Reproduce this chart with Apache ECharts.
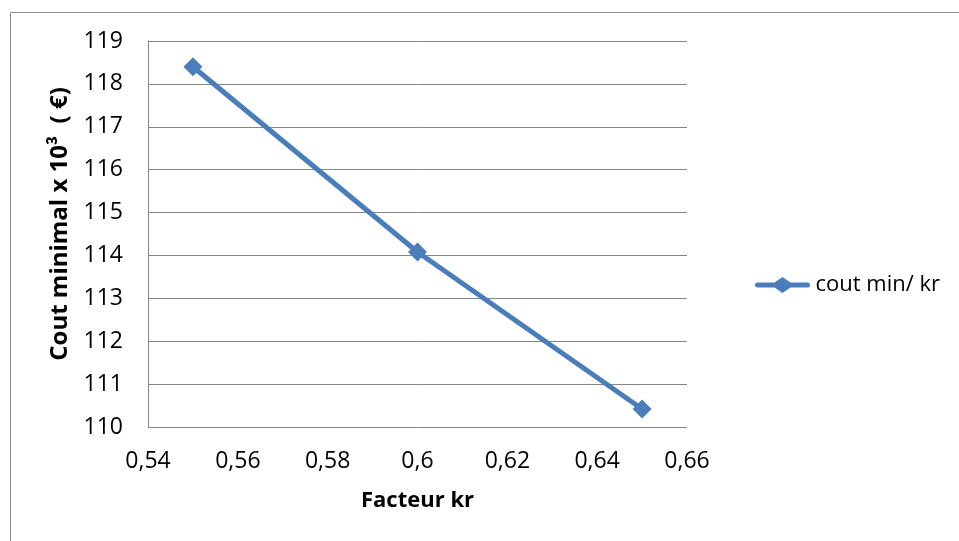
<!DOCTYPE html>
<html>
<head>
<meta charset="utf-8">
<script src="https://cdn.jsdelivr.net/npm/echarts@6/dist/echarts.min.js"></script>
<style>
  html, body { margin: 0; padding: 0; background: #fff; }
  #chart { width: 959px; height: 541px; }
</style>
</head>
<body>
<div id="chart"></div>
<script>
// Facteur kr vs minimal cost (thousands of euros)
const kr = [0.55, 0.60, 0.65];
const coutMin = [118.4, 114.08, 110.42];
const seriesName = 'cout min/ kr';

const xMin = 0.54, xMax = 0.66, xStep = 0.02;
const yMin = 110, yMax = 119, yStep = 1;

const FONT = '"Open Sans", "Liberation Sans", sans-serif';
const BLUE = '#4a7ebb';
const GRID = '#868686';

// legend key: thick line with a diamond in the middle (56 x 16 box)
const LEGEND_ICON = 'path://M3,5.5 L20,5.5 L28,0 L36,5.5 L53,5.5 A2.5,2.5 0 0 1 53,10.5 L36,10.5 L28,16 L20,10.5 L3,10.5 A2.5,2.5 0 0 1 3,5.5 Z';

const chart = echarts.init(document.getElementById('chart'), null, { renderer: 'canvas' });

const fmtComma = v => String(Math.round(v * 100) / 100).replace('.', ',');

chart.setOption({
  animation: false,
  backgroundColor: '#ffffff',
  textStyle: { fontFamily: FONT },
  graphic: [{
    type: 'rect',
    shape: { x: 10.5, y: 12.5, width: 980, height: 560 },
    style: { fill: 'none', stroke: '#8c8c8c', lineWidth: 1 },
    silent: true
  }],
  grid: { left: 148, top: 41, right: 959 - 687, bottom: 541 - 427, containLabel: false },
  legend: {
    left: 750, top: 269,
    itemWidth: 56, itemHeight: 16,
    itemGap: 4,
    textStyle: { fontFamily: FONT, fontSize: 22, color: '#000' },
    data: [{ name: seriesName, icon: LEGEND_ICON }]
  },
  xAxis: {
    type: 'value',
    min: xMin, max: xMax, interval: xStep,
    name: 'Facteur kr',
    nameLocation: 'middle',
    nameGap: 63,
    nameTextStyle: { fontFamily: FONT, fontSize: 22, fontWeight: 'bold', color: '#000' },
    axisLine: { show: false },
    axisTick: { show: false },
    splitLine: { show: false },
    axisLabel: { fontFamily: FONT, fontSize: 23, color: '#000', margin: 23, formatter: fmtComma }
  },
  yAxis: {
    type: 'value',
    min: yMin, max: yMax, interval: yStep,
    name: 'Cout minimal x 10³  ( €)',
    nameLocation: 'middle',
    nameGap: 74,
    nameRotate: 90,
    nameTextStyle: { fontFamily: FONT, fontSize: 24, fontWeight: 'bold', color: '#000', padding: [0, 0, 0, 20] },
    axisLine: { show: true, lineStyle: { color: GRID, width: 1 } },
    axisTick: { show: false },
    splitLine: { show: true, lineStyle: { color: GRID, width: 1 } },
    axisLabel: { fontFamily: FONT, fontSize: 23, color: '#000', margin: 25 }
  },
  series: [{
    name: seriesName,
    type: 'line',
    data: kr.map((x, i) => [x, coutMin[i]]),
    symbol: 'diamond',
    symbolSize: 19,
    itemStyle: { color: BLUE },
    lineStyle: { color: BLUE, width: 5 }
  }]
});
</script>
</body>
</html>
